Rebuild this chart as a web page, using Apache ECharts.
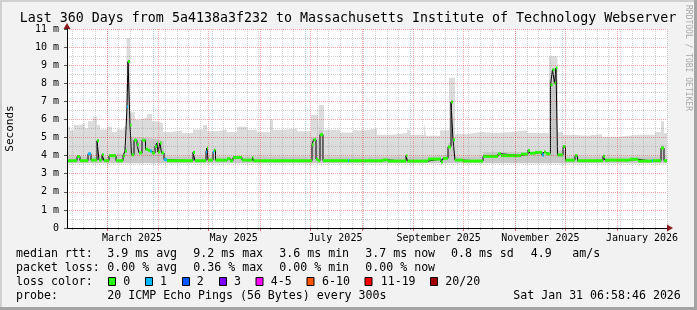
<!DOCTYPE html>
<html><head><meta charset="utf-8">
<script src="https://cdn.jsdelivr.net/npm/echarts@6/dist/echarts.min.js"></script>
<style>html,body{margin:0;padding:0;background:#f2f2f2}#c{width:697px;height:310px}</style>
</head><body><div id="c"></div>
<script>
// ---------------- data (x = days since 2025-02-05, values in ms) ----------------
const titleText = 'Last 360 Days from 5a4138a3f232 to Massachusetts Institute of Technology Webserver';
const startDate = [2025, 1, 5];
const totalDays = 360;
const yMax = 11;

// median RTT (step breakpoints)
const medDay = [0, 6, 7.8, 12.6, 14.4, 18, 19.2, 21, 22.2, 25.2, 29.4, 33.6, 34.8, 36, 36.6, 37.8, 38.7, 40.2, 42, 43.2, 45, 47.1, 48.6, 49.8, 51, 52.8, 54, 54.6, 55.8, 56.7, 58.2, 60, 75.6, 76.8, 83.4, 84, 84.6, 87.6, 88.2, 89.1, 96, 97.8, 99.6, 105, 111.3, 111.9, 147, 147.9, 149.4, 150.6, 151.8, 153.6, 168.6, 169.2, 189.6, 192.6, 203.4, 204.3, 216.6, 224.4, 225.6, 228.6, 230.4, 231.6, 232.8, 237.6, 249.6, 258.6, 260.4, 272.4, 276.6, 277.8, 280.8, 285, 286.2, 287.4, 290.1, 291.3, 292.5, 293.4, 294.3, 297.6, 299.1, 304.8, 306.3, 321.6, 322.8, 337.8, 342.6, 351, 351.6, 356.4, 358.2, 360];
const medVal = [3.72, 3.95, 3.72, 4.1, 3.75, 4.82, 3.75, 4.05, 3.72, 4.0, 3.72, 4.0, 4.25, 6.7, 9.2, 5.7, 4.05, 4.85, 4.6, 4.15, 4.85, 4.35, 4.3, 4.25, 4.15, 4.5, 4.7, 4.2, 4.7, 4.15, 3.78, 3.72, 4.18, 3.72, 4.2, 4.42, 3.75, 4.2, 4.3, 3.75, 3.83, 3.72, 3.9, 3.75, 3.9, 3.72, 4.6, 4.88, 3.8, 3.72, 5.16, 3.72, 3.72, 3.72, 3.76, 3.7, 4.0, 3.7, 3.81, 3.65, 3.85, 4.48, 6.96, 4.88, 3.75, 3.7, 3.96, 4.1, 4.0, 4.08, 4.29, 4.13, 4.18, 4.04, 4.2, 4.1, 7.92, 8.75, 8.0, 8.84, 4.04, 4.5, 3.75, 4.0, 3.72, 3.96, 3.75, 3.8, 3.7, 3.72, 3.72, 4.42, 3.72, 3.72];
const medLoss = [0, 0, 0, 1, 0, 0, 0, 0, 0, 0, 0, 0, 0, 1, 0, 0, 0, 0, 0, 0, 0, 0, 0, 1, 0, 0, 0, 0, 0, 0, 1, 0, 0, 0, 1, 0, 0, 1, 0, 0, 0, 0, 0, 0, 0, 0, 0, 0, 0, 0, 0, 0, 1, 0, 0, 0, 0, 0, 0, 0, 0, 0, 0, 0, 0, 0, 0, 0, 0, 0, 0, 0, 0, 1, 0, 0, 0, 0, 0, 0, 0, 0, 0, 0, 0, 0, 0, 0, 0, 1, 0, 0, 0, 0];

// smoke: outer (max) band
const smokeHiDay = [0, 1.8, 4.2, 7.8, 10.8, 12.6, 15.6, 18, 19.8, 24, 27, 30, 34.2, 35.7, 37.8, 40.8, 43.8, 48, 51, 54, 57.6, 63, 69, 75.6, 81.6, 84, 90, 96, 102, 108, 114, 121.8, 123.6, 130.8, 138, 146.4, 150.6, 151.2, 154.2, 163.8, 171.6, 178.8, 186, 195, 204, 205.8, 214.2, 215.4, 223.8, 229.2, 232.8, 240, 247.8, 258, 266.4, 276, 289.2, 294.3, 297.6, 303.6, 312, 321, 330, 343.8, 352.8, 356.4, 358.2, 360];
const smokeHiVal = [5.6, 5.4, 5.7, 5.8, 5.5, 5.9, 6.17, 5.7, 5.45, 5.6, 5.3, 5.45, 5.6, 10.5, 6.4, 6.0, 6.1, 6.3, 5.9, 5.8, 5.3, 5.4, 5.25, 5.45, 5.7, 5.35, 5.45, 5.3, 5.6, 5.43, 5.3, 6.0, 5.43, 5.5, 5.35, 6.26, 5.43, 6.8, 5.43, 5.28, 5.4, 5.5, 5.16, 5.25, 5.4, 5.16, 5.8, 5.1, 5.4, 8.3, 5.2, 5.3, 5.25, 5.3, 5.4, 5.25, 9.5, 5.3, 5.16, 5.1, 5.2, 5.05, 5.15, 5.16, 5.3, 5.9, 5.25, 5.25];
// smoke: inner (denser) band
const smokeMidDay = [0, 30, 34.2, 35.7, 37.8, 43.8, 54, 58.2, 75.6, 76.8, 83.4, 84.6, 87.6, 89.1, 146.4, 150, 151.2, 153.6, 216.6, 228.6, 230.4, 231.6, 232.8, 249.6, 289.2, 294.3, 299.1, 356.4, 358.2, 360];
const smokeMidVal = [3.95, 4.1, 4.5, 8.0, 5.0, 4.9, 4.8, 3.95, 4.3, 3.95, 4.5, 3.95, 4.4, 3.95, 5.0, 3.95, 5.4, 3.95, 4.05, 4.7, 7.5, 5.0, 3.95, 4.2, 8.2, 4.3, 3.95, 4.6, 3.95, 3.95];
// smoke: lowest ping
const smokeLoDay = [0, 360];
const smokeLoVal = [3.58, 3.58];

const lossColors = ['#26ff00', '#00b8ff', '#0059ff', '#7e00ff', '#ff00ff', '#ff5500', '#ff0000', '#a10000'];
const lossLabels = ['0', '1', '2', '3', '4-5', '6-10', '11-19', '20/20'];
const monthNames = ['January','February','March','April','May','June','July','August','September','October','November','December'];

// ---------------- build ----------------
const pairs = (xs, ys) => xs.map((x, i) => [x, ys[i]]);
const dates = [];
for (let i = 0; i <= totalDays; i++) dates.push(new Date(Date.UTC(startDate[0], startDate[1], startDate[2] + i)));
const cats = dates.map(d => d.toISOString().slice(0, 10));
const isMonthStart = i => dates[i].getUTCDate() === 1;
const isWeek = i => dates[i].getUTCDay() === 6;
const isLabelDay = i => dates[i].getUTCDate() === 16 && [0, 2, 4, 6, 8, 10].includes(dates[i].getUTCMonth());

const segs = [];
for (let i = 0; i < medDay.length - 1; i++) segs.push([medDay[i], medDay[i + 1], medVal[i], medLoss[i]]);

const MONO = "'DejaVu Sans Mono', monospace";
const minorGrid = 'rgba(140,140,140,0.42)';
const majorGrid = 'rgba(235,40,40,0.42)';
const arrowCol = '#8b1a1a';

const legendRows = [
  [[16, 'median rtt:'], [107.3, '3.9 ms avg'], [193.3, '9.2 ms max'], [279.3, '3.6 ms min'], [365.3, '3.7 ms now'], [451, '0.8 ms sd'], [530.7, '4.9'], [572.3, 'am/s']],
  [[16, 'packet loss:'], [107.3, '0.00 % avg'], [193.3, '0.36 % max'], [279.3, '0.00 % min'], [365.3, '0.00 % now']],
  [[16, 'loss color:']],
  [[16, 'probe:'], [107.3, '20 ICMP Echo Pings (56 Bytes) every 300s'], [513.3, 'Sat Jan 31 06:58:46 2026']]
];
const rowY = [254, 268, 282, 296];
const boxX = [108.5, 145.5, 182.5, 219.5, 256, 307, 365, 430.5];
const boxLabelX = [123.3, 160, 196.7, 234, 270.7, 322, 380.7, 445.3];

const graphics = [
  {type: 'rect', shape: {x: 0, y: 0, width: 697, height: 2}, style: {fill: '#d0d0d0'}, silent: true},
  {type: 'rect', shape: {x: 0, y: 0, width: 2, height: 310}, style: {fill: '#d0d0d0'}, silent: true},
  {type: 'rect', shape: {x: 0, y: 307, width: 697, height: 3}, style: {fill: '#a4a4a4'}, silent: true},
  {type: 'rect', shape: {x: 694, y: 0, width: 3, height: 310}, style: {fill: '#a4a4a4'}, silent: true},
  {type: 'text', x: 348, y: 18.5, style: {text: titleText, font: '13.3px ' + MONO, fill: '#000', align: 'center', verticalAlign: 'middle'}},
  {type: 'text', x: 688, y: 5, rotation: -Math.PI / 2, style: {text: 'RRDTOOL / TOBI OETIKER', font: '8px ' + MONO, fill: '#a8a8a8', align: 'left', verticalAlign: 'middle'}}
];
legendRows.forEach((row, r) => row.forEach(([x, t]) => graphics.push({type: 'text', x: x, y: rowY[r], style: {text: t, font: '11.6px ' + MONO, fill: '#000', align: 'left', verticalAlign: 'middle'}})));
lossColors.forEach((c, i) => {
  graphics.push({type: 'rect', shape: {x: boxX[i], y: 277.5, width: 7, height: 8}, style: {fill: c, stroke: '#000', lineWidth: 1}});
  graphics.push({type: 'text', x: boxLabelX[i], y: rowY[2], style: {text: lossLabels[i], font: '11.6px ' + MONO, fill: '#000', align: 'left', verticalAlign: 'middle'}});
});

const GRID = {left: 67, top: 29, width: 600, height: 199};

const option = {
  animation: false,
  backgroundColor: '#f2f2f2',
  grid: Object.assign({show: true, backgroundColor: '#ffffff', borderWidth: 0, containLabel: false, outerBoundsMode: 'none'}, GRID),
  xAxis: [
    {type: 'value', min: 0, max: totalDays, z: 6, position: 'bottom',
     axisLine: {show: true, lineStyle: {color: '#000', width: 1}}, axisTick: {show: false}, axisLabel: {show: false}, splitLine: {show: false}},
    {type: 'category', data: cats, boundaryGap: false, z: 5, position: 'bottom',
     axisLine: {show: false}, axisLabel: {show: false},
     axisTick: {show: true, interval: isWeek, length: 2, lineStyle: {color: '#b0b0b0'}},
     splitLine: {show: true, interval: isWeek, lineStyle: {color: minorGrid, width: 1, type: [1, 1]}}},
    {type: 'category', data: cats, boundaryGap: false, z: 5.2, position: 'bottom',
     axisLine: {show: true, symbol: ['none', 'triangle'], symbolSize: [7, 6], symbolOffset: [0, 3], lineStyle: {color: arrowCol, width: 1}},
     axisTick: {show: true, interval: isMonthStart, length: 3, lineStyle: {color: '#e06060'}},
     axisLabel: {show: true, interval: isLabelDay, margin: 5, fontFamily: MONO, fontSize: 10, color: '#000',
                 formatter: v => { const d = new Date(v + 'T00:00:00Z'); return monthNames[d.getUTCMonth()] + ' ' + d.getUTCFullYear(); }},
     splitLine: {show: true, interval: isMonthStart, lineStyle: {color: majorGrid, width: 1, type: [1, 1]}}}
  ],
  yAxis: [
    {type: 'value', min: 0, max: yMax, interval: 1, z: 6, position: 'left',
     name: 'Seconds', nameLocation: 'middle', nameRotate: 90, nameGap: 51,
     nameTextStyle: {fontFamily: MONO, fontSize: 11, color: '#000'},
     axisLine: {show: true, lineStyle: {color: '#000', width: 1}},
     axisTick: {show: true, length: 3, lineStyle: {color: '#555'}},
     axisLabel: {margin: 8, fontFamily: MONO, fontSize: 10, color: '#000', formatter: v => v === 0 ? '0' : v + ' m'},
     minorTick: {show: false, splitNumber: 2},
     minorSplitLine: {show: true, lineStyle: {color: minorGrid, width: 1, type: [1, 1]}},
     splitLine: {show: true, lineStyle: {color: majorGrid, width: 1, type: [1, 1]}}},
    {type: 'value', min: 0, max: yMax, interval: 1, z: 5.5, position: 'left',
     axisLine: {show: true, symbol: ['none', 'triangle'], symbolSize: [7, 6], symbolOffset: [0, 3], lineStyle: {color: arrowCol, width: 1}},
     axisTick: {show: false}, axisLabel: {show: false}, splitLine: {show: false}}
  ],
  series: [
    {type: 'line', name: 'smokeHi', xAxisIndex: 0, yAxisIndex: 0, data: pairs(smokeHiDay, smokeHiVal), step: 'end', symbol: 'none', z: 1,
     lineStyle: {width: 0}, areaStyle: {color: '#dcdcdc', opacity: 1}, silent: true},
    {type: 'line', name: 'smokeMid', xAxisIndex: 0, yAxisIndex: 0, data: pairs(smokeMidDay, smokeMidVal), step: 'end', symbol: 'none', z: 1.1,
     lineStyle: {width: 0}, areaStyle: {color: '#c8c8c8', opacity: 1}, silent: true},
    {type: 'line', name: 'smokeLo', xAxisIndex: 0, yAxisIndex: 0, data: pairs(smokeLoDay, smokeLoVal), step: 'end', symbol: 'none', z: 1.2,
     lineStyle: {width: 0}, areaStyle: {color: '#ffffff', opacity: 1}, silent: true},
    {type: 'line', name: 'median', xAxisIndex: 0, yAxisIndex: 0, data: pairs(medDay, medVal), step: 'end', symbol: 'none', z: 3,
     lineStyle: {color: '#000', width: 1}, silent: true},
    {type: 'custom', name: 'loss', xAxisIndex: 0, yAxisIndex: 0, data: segs, z: 4, silent: true, clip: true,
     encode: {x: [0, 1], y: 2},
     renderItem: (params, api) => {
       const p0 = api.coord([api.value(0), api.value(2)]);
       const p1 = api.coord([api.value(1), api.value(2)]);
       return {type: 'rect', shape: {x: p0[0], y: p0[1] - 1.5, width: Math.max(1, p1[0] - p0[0]), height: 3},
               style: {fill: lossColors[api.value(3)]}};
     }}
  ],
  graphic: graphics
};
const chart = echarts.init(document.getElementById('c'));
chart.setOption(option);
</script></body></html>
